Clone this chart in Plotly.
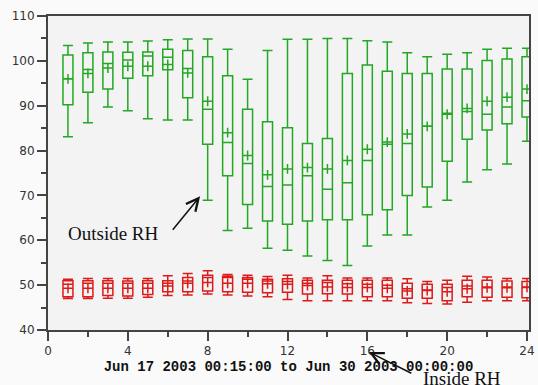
import plotly.graph_objects as go

# Hourly relative-humidity statistics, Jun 17 - Jun 30 2003
hours = list(range(1, 25))

# Outside RH (%)
out_upper = [103.4, 104.0, 104.2, 104.2, 104.4, 104.7, 104.9, 104.9, 102.6, 95.9, 102.3, 104.8,
             104.8, 105.0, 105.0, 104.5, 104.2, 101.8, 100.9, 101.5, 101.8, 102.6, 102.8, 102.8]
out_q3 = [101.3, 101.8, 102.0, 101.9, 102.0, 102.6, 102.3, 100.9, 96.7, 89.2, 86.4, 85.1,
          81.6, 82.7, 97.2, 99.1, 97.7, 97.2, 97.2, 98.2, 98.2, 100.1, 100.4, 100.9]
out_median = [96.0, 98.1, 99.4, 100.2, 101.1, 100.8, 98.3, 89.2, 81.8, 77.1, 72.0, 72.3,
              74.4, 71.4, 72.8, 77.8, 81.4, 81.6, 85.4, 88.3, 88.7, 88.1, 89.7, 91.1]
out_mean = [96.0, 97.2, 98.4, 98.8, 98.8, 99.2, 97.3, 91.0, 84.0, 78.9, 74.6, 75.9,
            76.2, 75.9, 77.8, 80.3, 81.9, 83.7, 85.4, 88.1, 89.4, 91.0, 91.9, 93.7]
out_q1 = [90.2, 93.0, 93.7, 96.1, 96.7, 98.0, 91.8, 81.4, 74.4, 68.0, 64.3, 63.6,
          64.3, 64.6, 64.6, 65.7, 66.8, 70.0, 71.9, 77.6, 82.5, 84.6, 86.0, 87.5]
out_lower = [83.1, 86.2, 89.7, 88.9, 87.1, 86.8, 86.8, 68.9, 62.2, 62.7, 58.2, 57.8,
             56.5, 55.5, 54.4, 58.7, 61.2, 61.2, 67.4, 68.9, 73.0, 75.7, 77.0, 82.1]

# Inside RH (%)
in_upper = [51.3, 51.5, 51.5, 51.5, 51.5, 52.1, 52.6, 53.2, 52.4, 52.2, 51.9, 52.2,
            51.6, 52.1, 51.6, 51.6, 51.6, 51.4, 50.8, 51.1, 52.0, 51.8, 51.5, 51.5]
in_q3 = [51.0, 51.0, 51.0, 50.9, 51.0, 51.0, 51.7, 52.2, 52.0, 51.7, 51.3, 51.4,
         51.1, 51.1, 51.1, 51.1, 51.1, 50.4, 50.2, 50.2, 51.1, 51.1, 50.9, 50.8]
in_median = [50.2, 50.4, 50.4, 50.4, 50.4, 50.4, 50.9, 51.7, 51.7, 51.3, 50.9, 50.8,
             50.4, 50.6, 50.3, 50.2, 50.0, 49.2, 48.9, 49.5, 49.8, 49.6, 49.6, 49.6]
in_mean = [49.3, 49.3, 49.3, 49.3, 49.3, 49.8, 50.4, 50.6, 50.4, 50.4, 50.3, 50.2,
           49.9, 49.6, 49.5, 49.5, 49.3, 48.7, 48.8, 48.5, 49.2, 49.4, 49.4, 49.5]
in_q1 = [47.4, 47.4, 47.7, 47.6, 47.9, 48.5, 48.5, 48.7, 48.5, 48.4, 48.3, 48.4,
         48.0, 48.1, 48.0, 47.4, 47.4, 47.1, 47.1, 46.5, 47.4, 47.3, 47.3, 47.2]
in_lower = [47.0, 47.0, 47.1, 47.1, 47.3, 47.7, 47.8, 48.0, 47.8, 47.6, 47.4, 46.8,
            46.5, 46.5, 46.5, 46.5, 46.5, 46.1, 45.9, 45.8, 46.2, 46.5, 46.5, 46.5]

x_ticks = [0, 4, 8, 12, 16, 20, 24]
y_ticks = [40, 50, 60, 70, 80, 90, 100, 110]

GREEN = "#22a822"
RED = "#dd1a1a"

fig = go.Figure()


def add_series(upper, q3, med, mean, q1, lower, color):
    fig.add_trace(go.Box(
        x=hours, q1=q1, median=med, q3=q3, lowerfence=lower, upperfence=upper,
        width=0.5, whiskerwidth=1, boxpoints=False,
        fillcolor="rgba(0,0,0,0)", line=dict(color=color, width=1.5),
        hoverinfo="skip", showlegend=False,
    ))
    fig.add_trace(go.Scatter(
        x=hours, y=mean, mode="markers",
        marker=dict(symbol="cross-thin", size=7, line=dict(color=color, width=1.5)),
        hoverinfo="skip", showlegend=False,
    ))


add_series(out_upper, out_q3, out_median, out_mean, out_q1, out_lower, GREEN)
add_series(in_upper, in_q3, in_median, in_mean, in_q1, in_lower, RED)

axis_font = dict(family="DejaVu Sans", size=12, color="#333333")

fig.update_layout(
    width=538, height=385,
    margin=dict(l=48, r=3, t=16, b=55),
    paper_bgcolor="#fafafa",
    plot_bgcolor="#f3f3f3",
    boxmode="overlay",
    showlegend=False,
    xaxis=dict(
        range=[0, 24.1], tickvals=x_ticks, ticktext=[str(v) for v in x_ticks],
        showgrid=False, zeroline=False,
        showline=True, linecolor="#444444", linewidth=2, mirror=True,
        ticks="outside", ticklen=9, tickwidth=1.5, tickcolor="#444444",
        minor=dict(dtick=2, tick0=0, ticks="outside", ticklen=5, tickwidth=1.5,
                   tickcolor="#444444", showgrid=False),
        tickfont=axis_font, ticklabeloverflow="allow",
        title=dict(text="<b>Jun 17 2003 00:15:00 to Jun 30 2003 00:00:00</b>",
                   font=dict(family="Liberation Mono", size=14, color="#111111"),
                   standoff=4),
    ),
    yaxis=dict(
        range=[40, 110], tickvals=y_ticks, ticktext=[str(v) for v in y_ticks],
        showgrid=False, zeroline=False,
        showline=True, linecolor="#444444", linewidth=2, mirror=True,
        ticks="outside", ticklen=9, tickwidth=1.5, tickcolor="#444444",
        minor=dict(dtick=5, tick0=0, ticks="outside", ticklen=5, tickwidth=1.5,
                   tickcolor="#444444", showgrid=False),
        tickfont=axis_font,
    ),
)

label_font = dict(family="Liberation Serif", size=19, color="#111111")
arrow_style = dict(showarrow=True, arrowhead=5, arrowsize=1.6, arrowwidth=1.5,
                   arrowcolor="#111111")

# Outside RH label, pointing at the hour-8 whisker
fig.add_annotation(x=3.3, y=61.6, xref="x", yref="y", text="Outside RH",
                   showarrow=False, font=label_font)
fig.add_annotation(x=7.62, y=69.8, ax=6.19, ay=62.0, xref="x", yref="y",
                   axref="x", ayref="y", text="", **arrow_style)

# Inside RH label, sitting below the axis
fig.add_annotation(x=0.86, y=-0.153, xref="paper", yref="paper", text="Inside RH",
                   xanchor="center", yanchor="middle",
                   showarrow=False, font=label_font)
fig.add_annotation(x=0.667, y=-0.070, ax=44, ay=22, xref="paper", yref="paper",
                   text="", **arrow_style)

fig.write_html("out.html")
